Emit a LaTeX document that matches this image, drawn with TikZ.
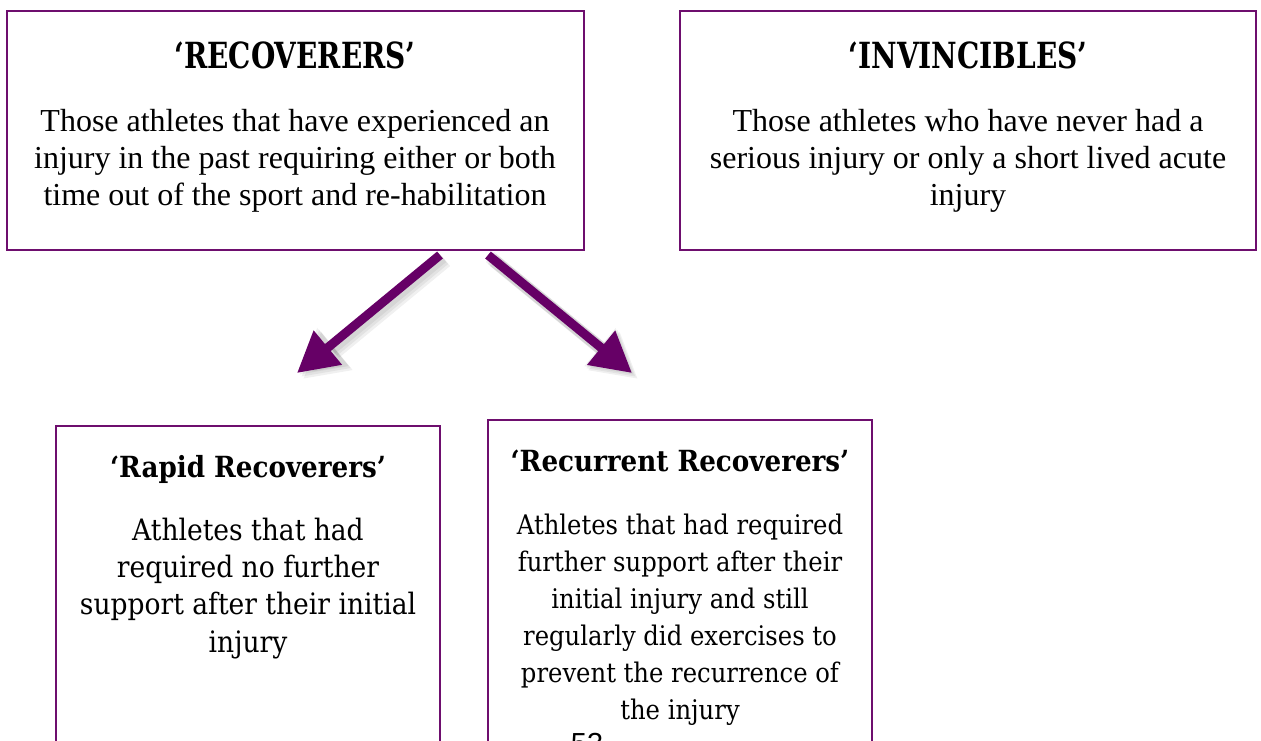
\documentclass[tikz,border=0pt]{standalone}
\usepackage{fontspec}
\setmainfont{Liberation Serif}
\newfontfamily\camb{DejaVu Serif Condensed}
\newfontfamily\cambhead[FakeStretch=0.863]{DejaVu Serif Condensed Bold}
\newfontfamily\sanf{Liberation Sans}
\usetikzlibrary{arrows.meta,calc}
\definecolor{boxpurple}{RGB}{110,14,110}
\definecolor{arrpurple}{RGB}{102,0,102}
\tikzset{
  catbox/.style={draw=boxpurple, line width=2pt, inner sep=0pt},
  titletext/.style={anchor=base, inner sep=0pt, font=\cambhead\fontsize{36}{40}\selectfont},
  subtitle/.style={anchor=base, inner sep=0pt, font=\camb\bfseries\fontsize{29.1}{34}\selectfont},
  toptext/.style={anchor=base, inner sep=0pt, align=center, font=\fontsize{32}{36.8}\selectfont},
  bottext/.style={anchor=base, inner sep=0pt, align=center, font=\camb\fontsize{27}{37}\selectfont},
  bigarrow/.style={draw=arrpurple, line width=9pt, -{Triangle[length=40pt,width=42pt]}},
  arrshadow/.style={draw=black, opacity=0.06, line width=13pt, -{Triangle[length=44pt,width=46pt]}}
}
\begin{document}
\begin{tikzpicture}[x=1pt,y=-1pt]
\useasboundingbox (0,0) rectangle (1261,740);
\clip (0,0) rectangle (1261,740);
% boxes
\node[catbox, minimum width=577pt, minimum height=239pt] (rec) at (295.5,130.5) {};
\node[catbox, minimum width=576pt, minimum height=239pt] (inv) at (968,130.5) {};
\node[catbox, minimum width=384pt, minimum height=340pt] (rap) at (248,596) {};
\node[catbox, minimum width=384pt, minimum height=346pt] (rcr) at (680,593) {};
% texts (base = baseline of last line)
\node[titletext] (rect) at (295,68) {‘RECOVERERS’};
\node[toptext] (recb) at (295,205) {Those athletes that have experienced an\\injury in the past requiring either or both\\time out of the sport and re-habilitation};
\node[titletext] (invt) at (968,68) {‘INVINCIBLES’};
\node[toptext] (invb) at (968,205) {Those athletes who have never had a\\serious injury or only a short lived acute\\injury};
\node[subtitle] (rapt) at (248,477) {‘Rapid Recoverers’};
\node[bottext, font=\camb\fontsize{29.5}{37.3}\selectfont] (rapb) at (248,652) {Athletes that had\\required no further\\support after their initial\\injury};
\node[subtitle] (rcrt) at (680,471) {‘Recurrent Recoverers’};
\node[bottext] (rcrb) at (680,719) {Athletes that had required\\further support after their\\initial injury and still\\regularly did exercises to\\prevent the recurrence of\\the injury};
\node[anchor=base, inner sep=0pt, font=\sanf\fontsize{29}{34}\selectfont] (pg) at (587,753) {53};
% arrows
\coordinate (a1s) at ([xshift=144.5pt,yshift=-4pt]rec.south);
\coordinate (a1e) at (297,373);
\coordinate (a2s) at ([xshift=192.5pt,yshift=-4pt]rec.south);
\coordinate (a2e) at (632,373);
\foreach \d in {2,4,6}{
  \draw[arrshadow] ($(a1s)+(\d,\d)$) -- ($(a1e)+(\d,\d)$);
  \draw[arrshadow] ($(a2s)+(\d,\d)$) -- ($(a2e)+(\d,\d)$);
}
\draw[bigarrow] (a1s) -- (a1e);
\draw[bigarrow] (a2s) -- (a2e);
\end{tikzpicture}
\end{document}
